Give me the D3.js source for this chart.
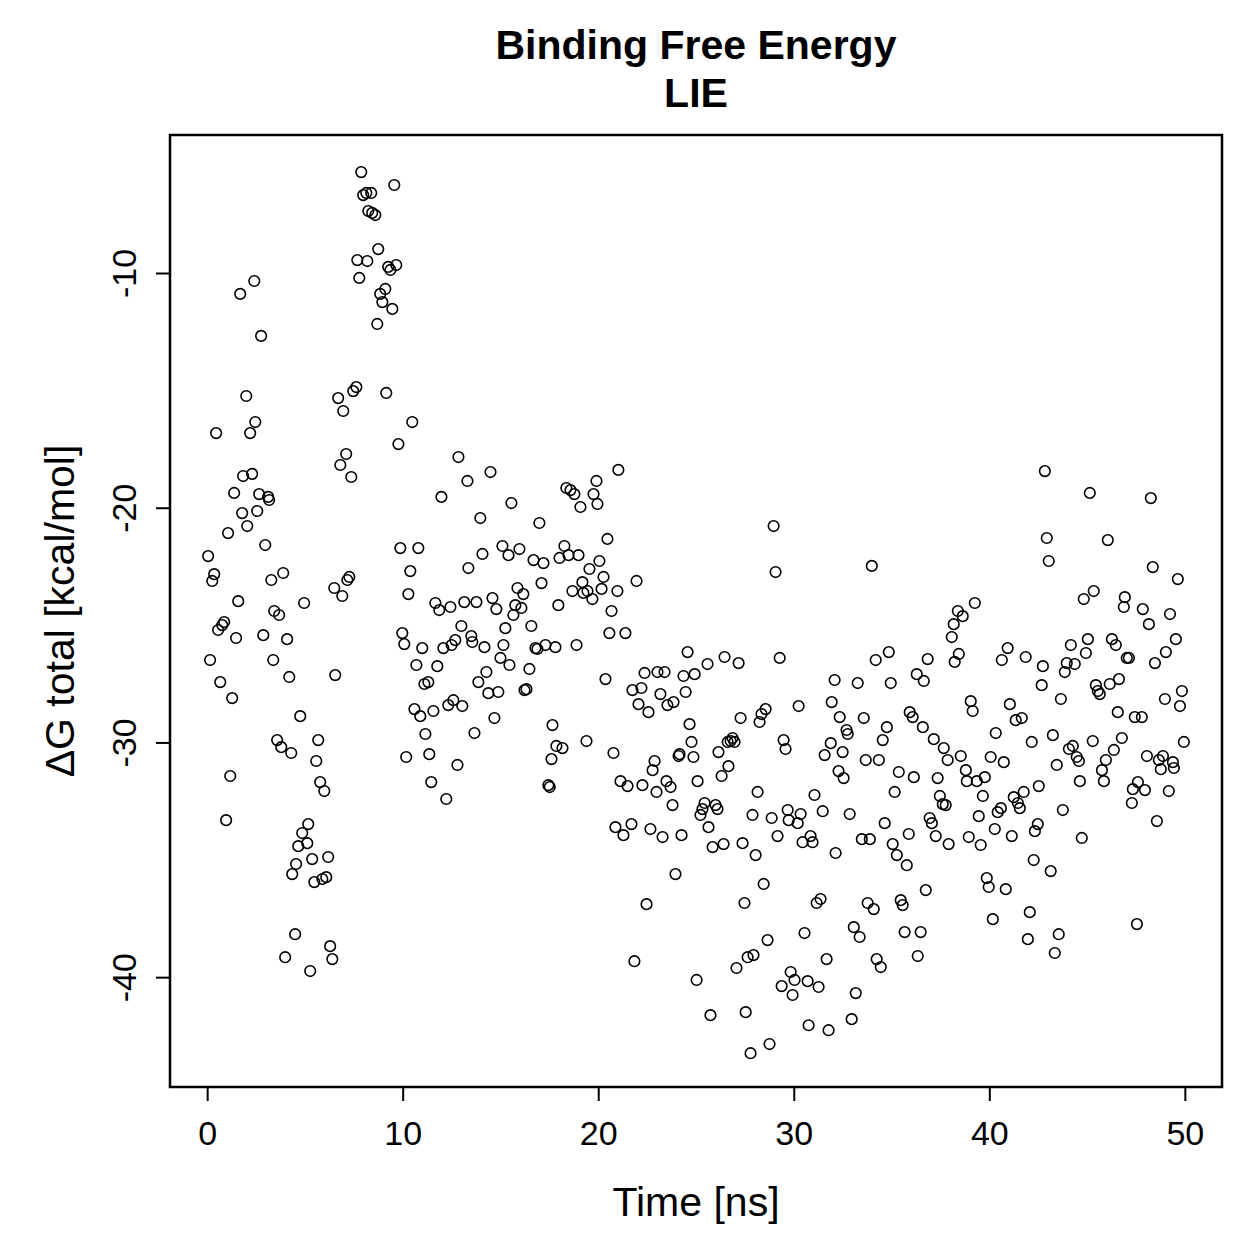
<!DOCTYPE html>
<html>
<head>
<meta charset="utf-8">
<script src="https://cdn.jsdelivr.net/npm/d3@7"></script>
<style>
  body { margin: 0; background: #fff; }
  text { font-family: "Liberation Sans", Arial, Helvetica, sans-serif; fill: #000; }
</style>
</head>
<body>
<div id="chart"></div>
<script>
// [time (ns), dG total (kcal/mol)], split by 10 ns blocks
var pts0to10 = [
  [0.05,-22.06],[0.15,-26.49],[0.26,-23.12],[0.36,-22.83],[0.46,-16.82],[0.56,-25.21],[0.67,-27.43],[0.77,-25.00],
  [0.87,-24.87],[0.97,-33.31],[1.07,-21.08],[1.18,-31.43],[1.28,-28.11],[1.38,-19.37],[1.48,-25.55],[1.59,-23.98],
  [1.69,-10.89],[1.79,-20.23],[1.84,-18.65],[2.00,-15.24],[2.05,-20.78],[2.20,-16.82],[2.30,-18.56],[2.41,-10.34],
  [2.46,-16.35],[2.56,-20.14],[2.66,-19.42],[2.76,-12.68],[2.87,-25.43],[2.97,-21.59],[3.12,-19.54],[3.17,-19.67],
  [3.28,-23.08],[3.38,-26.49],[3.43,-24.40],[3.58,-29.90],[3.68,-24.57],[3.79,-30.20],[3.89,-22.78],[3.99,-39.15],
  [4.09,-25.60],[4.20,-27.21],[4.30,-30.45],[4.35,-35.61],[4.50,-38.17],[4.55,-35.18],[4.66,-34.42],[4.76,-28.88],
  [4.86,-33.86],[4.96,-24.06],[5.12,-34.29],[5.17,-33.48],[5.27,-39.74],[5.37,-34.97],[5.48,-35.95],[5.58,-30.79],
  [5.68,-29.90],[5.78,-31.69],[5.89,-35.82],[5.99,-32.07],[6.09,-35.74],[6.19,-34.88],[6.29,-38.68],[6.40,-39.23],
  [6.50,-23.42],[6.55,-27.13],[6.70,-15.33],[6.81,-18.18],[6.91,-23.76],[6.96,-15.88],[7.11,-17.71],[7.17,-23.08],
  [7.27,-22.95],[7.37,-18.69],[7.47,-15.03],[7.63,-14.86],[7.68,-9.45],[7.78,-10.21],[7.88,-5.70],[7.98,-6.68],
  [8.14,-6.59],[8.19,-9.49],[8.24,-7.36],[8.39,-6.59],[8.44,-7.44],[8.60,-7.53],[8.70,-12.17],[8.75,-8.98],
  [8.85,-10.89],[8.96,-11.24],[9.11,-10.68],[9.16,-15.11],[9.26,-9.74],[9.37,-9.87],[9.47,-11.53],[9.57,-6.25],
  [9.67,-9.66],[9.78,-17.29],[9.88,-21.72]
];
var pts10to20 = [
  [9.98,-25.34],[10.08,-25.81],[10.18,-30.62],[10.29,-23.68],[10.39,-22.70],[10.49,-16.35],[10.60,-28.58],[10.70,-26.70],
  [10.80,-21.72],[10.90,-28.88],[11.00,-25.98],[11.11,-27.51],[11.16,-29.64],[11.31,-27.43],[11.36,-30.50],[11.46,-31.69],
  [11.57,-28.66],[11.67,-24.06],[11.77,-26.75],[11.87,-24.36],[11.98,-19.54],[12.08,-25.98],[12.23,-32.41],[12.33,-28.41],
  [12.44,-24.23],[12.50,-25.85],[12.59,-28.20],[12.69,-25.64],[12.80,-30.96],[12.85,-17.84],[13.00,-25.04],[13.05,-28.45],
  [13.15,-24.02],[13.31,-18.86],[13.36,-22.57],[13.51,-25.47],[13.56,-25.72],[13.67,-29.60],[13.77,-24.02],[13.87,-27.43],
  [13.97,-20.44],[14.08,-21.97],[14.18,-25.94],[14.28,-27.00],[14.38,-27.90],[14.49,-18.48],[14.59,-23.85],[14.69,-28.96],
  [14.79,-24.32],[14.89,-27.85],[15.00,-26.40],[15.10,-21.63],[15.15,-25.85],[15.25,-25.13],[15.41,-22.02],[15.46,-26.70],
  [15.56,-19.80],[15.66,-24.57],[15.76,-24.15],[15.87,-23.42],[15.97,-21.76],[16.07,-24.27],[16.17,-23.68],[16.23,-27.77],
  [16.33,-27.73],[16.48,-26.87],[16.58,-25.04],[16.69,-22.23],[16.79,-25.98],[16.89,-26.02],[16.99,-20.65],[17.10,-23.21],
  [17.20,-22.36],[17.30,-25.85],[17.45,-31.82],[17.52,-31.90],[17.61,-30.71],[17.66,-29.26],[17.81,-25.94],[17.86,-30.15],
  [17.96,-24.15],[18.02,-22.14],[18.17,-30.24],[18.27,-21.63],[18.37,-19.16],[18.48,-22.02],[18.58,-19.25],[18.68,-23.55],
  [18.78,-19.42],[18.89,-25.85],[18.99,-22.02],[19.09,-19.97],[19.19,-23.17],[19.24,-23.63],[19.40,-29.94],[19.45,-23.55],
  [19.55,-22.61],[19.70,-23.89],[19.76,-19.42],[19.91,-18.86],[19.96,-19.84]
];
var pts20to30 = [
  [20.06,-22.27],[20.17,-23.46],[20.27,-22.95],[20.37,-27.30],[20.47,-21.33],[20.57,-25.34],[20.68,-24.40],[20.78,-30.45],
  [20.88,-33.61],[20.98,-23.55],[21.03,-18.39],[21.14,-31.65],[21.29,-33.95],[21.39,-25.34],[21.50,-31.86],[21.70,-33.48],
  [21.75,-27.77],[21.85,-39.32],[21.96,-23.12],[22.06,-28.37],[22.21,-27.68],[22.26,-31.82],[22.37,-27.04],[22.47,-36.89],
  [22.57,-28.71],[22.67,-33.69],[22.78,-31.18],[22.88,-30.79],[22.98,-32.11],[23.03,-27.00],[23.18,-27.94],[23.29,-34.03],
  [23.39,-27.00],[23.49,-31.65],[23.54,-28.41],[23.70,-31.90],[23.80,-32.67],[23.85,-28.28],[23.95,-35.61],[24.11,-30.58],
  [24.16,-30.50],[24.26,-33.95],[24.36,-27.17],[24.47,-27.85],[24.57,-26.15],[24.67,-29.22],[24.77,-29.98],[24.87,-30.62],
  [24.93,-27.09],[25.03,-40.12],[25.08,-31.65],[25.23,-33.09],[25.33,-32.84],[25.44,-32.58],[25.59,-26.66],[25.64,-33.61],
  [25.74,-41.62],[25.85,-34.46],[26.00,-32.67],[26.10,-32.84],[26.15,-30.41],[26.31,-31.43],[26.41,-34.33],[26.46,-26.36],
  [26.62,-29.98],[26.66,-31.01],[26.77,-29.94],[26.87,-29.81],[26.97,-29.98],[27.07,-39.61],[27.18,-26.62],[27.28,-28.96],
  [27.38,-34.29],[27.48,-36.84],[27.54,-41.49],[27.64,-39.15],[27.79,-43.24],[27.89,-33.09],[27.94,-39.06],[28.05,-34.80],
  [28.15,-32.11],[28.25,-29.13],[28.35,-28.79],[28.46,-36.03],[28.56,-28.58],[28.66,-38.42],[28.76,-42.85],[28.87,-33.22],
  [28.97,-20.78],[29.07,-22.74],[29.17,-33.99],[29.28,-26.40],[29.38,-40.38],[29.48,-29.90],[29.58,-30.28],[29.69,-32.88],
  [29.74,-33.31],[29.84,-39.78],[29.94,-40.76]
];
var pts30to40 = [
  [30.04,-40.12],[30.20,-33.44],[30.25,-28.45],[30.35,-33.05],[30.45,-34.25],[30.55,-38.12],[30.71,-40.17],[30.76,-42.05],
  [30.86,-33.99],[30.96,-34.25],[31.06,-32.24],[31.17,-36.84],[31.27,-40.42],[31.37,-36.67],[31.48,-32.93],[31.58,-30.54],
  [31.68,-39.23],[31.78,-42.26],[31.89,-30.03],[31.94,-28.28],[32.09,-27.34],[32.14,-34.71],[32.29,-31.22],[32.35,-28.92],
  [32.50,-30.41],[32.55,-31.52],[32.70,-29.47],[32.76,-29.64],[32.86,-33.05],[32.96,-41.79],[33.07,-37.87],[33.17,-40.68],
  [33.27,-27.47],[33.37,-38.29],[33.48,-34.12],[33.58,-28.96],[33.68,-30.75],[33.78,-36.84],[33.89,-34.12],[33.99,-22.48],
  [34.09,-37.10],[34.19,-26.49],[34.24,-39.23],[34.35,-30.75],[34.45,-39.57],[34.55,-29.90],[34.65,-33.44],[34.76,-29.35],
  [34.86,-26.15],[34.96,-27.47],[35.06,-34.33],[35.16,-32.11],[35.27,-34.80],[35.37,-31.26],[35.47,-36.72],[35.57,-36.93],
  [35.67,-38.08],[35.78,-35.23],[35.88,-33.90],[35.93,-28.71],[36.08,-28.92],[36.14,-31.48],[36.29,-27.09],[36.34,-39.10],
  [36.49,-38.08],[36.60,-29.35],[36.65,-27.38],[36.75,-36.29],[36.85,-26.45],[36.95,-33.22],[37.06,-33.44],[37.16,-29.86],
  [37.26,-33.99],[37.36,-31.52],[37.47,-32.28],[37.62,-32.63],[37.67,-30.24],[37.77,-32.67],[37.87,-30.75],[37.92,-34.33],
  [38.08,-25.51],[38.18,-24.96],[38.23,-26.57],[38.39,-24.40],[38.44,-26.23],[38.54,-30.58],[38.64,-24.62],[38.80,-31.18],
  [38.85,-31.65],[38.95,-34.03],[39.05,-28.24],[39.15,-28.66],[39.26,-24.06],[39.36,-31.65],[39.46,-33.14],[39.56,-34.37],
  [39.67,-32.28],[39.77,-31.48],[39.87,-35.78]
];
var pts40to50 = [
  [39.97,-36.16],[40.07,-30.62],[40.18,-37.53],[40.28,-33.69],[40.33,-29.60],[40.43,-32.97],[40.59,-32.80],[40.64,-26.49],
  [40.74,-30.84],[40.84,-36.25],[40.94,-25.98],[41.05,-28.37],[41.15,-33.99],[41.25,-32.33],[41.35,-29.05],[41.46,-32.58],
  [41.56,-32.80],[41.66,-28.96],[41.76,-32.11],[41.86,-26.36],[41.97,-38.38],[42.07,-37.23],[42.17,-29.98],[42.27,-35.01],
  [42.33,-33.78],[42.48,-33.48],[42.53,-31.86],[42.68,-27.56],[42.74,-26.75],[42.84,-18.44],[42.94,-21.29],[43.04,-22.27],
  [43.14,-35.48],[43.25,-29.69],[43.35,-38.97],[43.45,-30.96],[43.55,-38.17],[43.66,-28.15],[43.76,-32.88],[43.86,-27.00],
  [43.96,-26.62],[44.07,-30.28],[44.17,-25.85],[44.27,-30.15],[44.37,-26.66],[44.47,-30.62],[44.58,-30.79],[44.63,-31.65],
  [44.73,-34.07],[44.83,-23.89],[44.94,-26.19],[45.04,-25.60],[45.14,-19.37],[45.29,-29.94],[45.34,-23.55],[45.45,-27.56],
  [45.55,-27.81],[45.65,-27.94],[45.76,-31.18],[45.86,-31.65],[45.96,-30.75],[46.06,-21.38],[46.16,-27.51],[46.27,-25.60],
  [46.37,-30.32],[46.47,-25.85],[46.57,-28.71],[46.63,-27.30],[46.78,-29.81],[46.88,-24.23],[46.93,-23.81],[47.03,-26.40],
  [47.14,-26.40],[47.29,-32.58],[47.34,-31.99],[47.44,-28.92],[47.55,-37.74],[47.60,-31.69],[47.80,-28.92],[47.85,-24.32],
  [47.96,-32.03],[48.06,-30.58],[48.16,-24.96],[48.26,-19.59],[48.36,-22.53],[48.47,-26.62],[48.57,-33.35],[48.67,-30.75],
  [48.77,-31.14],[48.88,-30.58],[48.98,-28.15],[49.03,-26.15],[49.18,-32.07],[49.24,-24.53],[49.39,-30.84],[49.44,-31.09],
  [49.54,-25.60],[49.64,-23.04],[49.75,-28.45],[49.85,-27.81],[49.95,-29.98]
];

var xTicks = [0, 10, 20, 30, 40, 50];
var yTicks = [-40, -30, -20, -10];
var titleLines = ["Binding Free Energy", "LIE"];
var xTitle = "Time [ns]";
var yTitle = "\u0394G total [kcal/mol]";

var data = pts0to10.concat(pts10to20, pts20to30, pts30to40, pts40to50);

var W = 1259, H = 1259;
var box = {left: 170, right: 1222, top: 135, bottom: 1087};

var svg = d3.select("#chart").append("svg")
  .attr("width", W)
  .attr("height", H);

// R style: 4% padding round the data range
var x = d3.scaleLinear().domain([-1.9, 51.9]).range([box.left, box.right]);
var y = d3.scaleLinear().domain([-44.68, -4.12]).range([box.bottom, box.top]);

var fs = 34;     // tick labels
var fsLab = 41;  // axis titles and main title

// plain hyphen minus like R
var fmt = function(d){ return String(d); };

// x axis
var xAxis = d3.axisBottom(x).tickValues(xTicks).tickSize(14).tickPadding(20).tickFormat(fmt);
var gx = svg.append("g").attr("transform", "translate(0," + box.bottom + ")").call(xAxis);
gx.selectAll("text").style("font-size", fs + "px").attr("font-family", null);
gx.selectAll("line, path").attr("stroke", "#000").attr("stroke-width", 2);
gx.select(".domain").attr("d", "M" + x(xTicks[0]) + ",0H" + x(xTicks[xTicks.length - 1]));

// y axis, labels turned like R (las = 0)
var yAxis = d3.axisLeft(y).tickValues(yTicks).tickSize(14).tickFormat(fmt);
var gy = svg.append("g").attr("transform", "translate(" + box.left + ",0)").call(yAxis);
gy.selectAll("line, path").attr("stroke", "#000").attr("stroke-width", 2);
gy.select(".domain").attr("d", "M0," + y(yTicks[0]) + "V" + y(yTicks[yTicks.length - 1]));
gy.selectAll("text")
  .attr("x", null).attr("dy", null)
  .attr("text-anchor", "middle")
  .attr("transform", "translate(-34,0) rotate(-90)")
  .style("font-size", fs + "px").attr("font-family", null);

// box
svg.append("rect")
  .attr("x", box.left).attr("y", box.top)
  .attr("width", box.right - box.left).attr("height", box.bottom - box.top)
  .attr("fill", "none").attr("stroke", "#000").attr("stroke-width", 2.5);

// points
svg.append("g").selectAll("circle")
  .data(data)
  .enter().append("circle")
  .attr("cx", function(d){ return x(d[0]); })
  .attr("cy", function(d){ return y(d[1]); })
  .attr("r", 5.3)
  .attr("fill", "none")
  .attr("stroke", "#000")
  .attr("stroke-width", 1.6);

// titles
svg.selectAll("text.main")
  .data(titleLines)
  .enter().append("text")
  .attr("class", "main")
  .attr("x", (box.left + box.right) / 2)
  .attr("y", function(d, i){ return 59 + i * 48; })
  .attr("text-anchor", "middle")
  .style("font-size", fsLab + "px")
  .style("font-weight", "bold")
  .text(function(d){ return d; });

svg.append("text")
  .attr("x", (box.left + box.right) / 2)
  .attr("y", 1216)
  .attr("text-anchor", "middle")
  .style("font-size", fsLab + "px")
  .text(xTitle);

svg.append("text")
  .attr("transform", "translate(74," + (box.top + box.bottom) / 2 + ") rotate(-90)")
  .attr("text-anchor", "middle")
  .style("font-size", fsLab + "px")
  .text(yTitle);
</script>
</body>
</html>
